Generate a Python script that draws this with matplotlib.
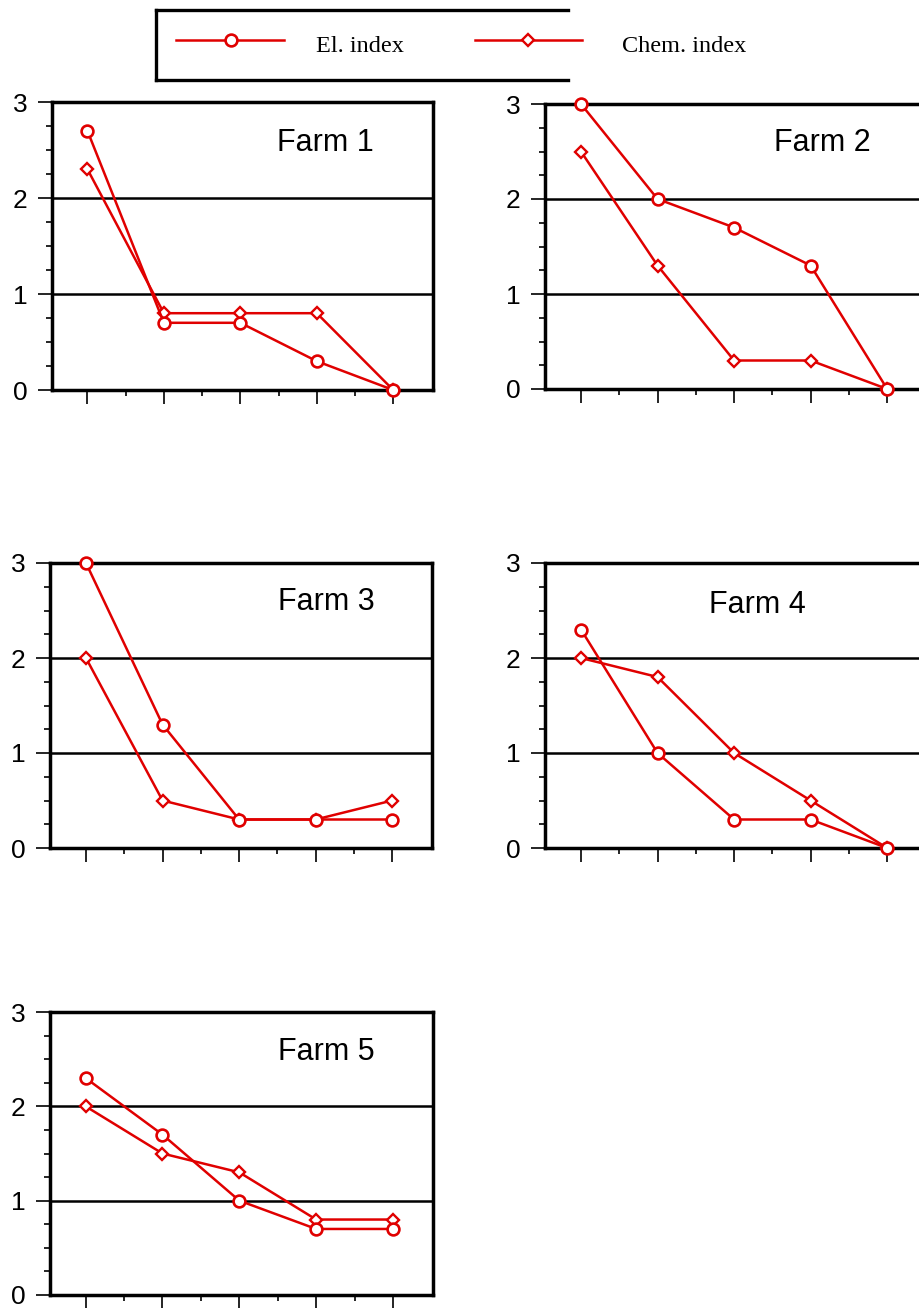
import matplotlib
matplotlib.use("Agg")
import matplotlib.pyplot as plt
from matplotlib.lines import Line2D
from matplotlib.ticker import FixedLocator, NullFormatter

plt.rcParams['font.family'] = ['Liberation Sans', 'DejaVu Sans']

# ---- data ----
x_points = [1, 2, 3, 4, 5]
farm_names = ["Farm 1", "Farm 2", "Farm 3", "Farm 4", "Farm 5"]
el_farm1 = [2.7, 0.7, 0.7, 0.3, 0.0]
chem_farm1 = [2.3, 0.8, 0.8, 0.8, 0.0]
el_farm2 = [3.0, 2.0, 1.7, 1.3, 0.0]
chem_farm2 = [2.5, 1.3, 0.3, 0.3, 0.0]
el_farm3 = [3.0, 1.3, 0.3, 0.3, 0.3]
chem_farm3 = [2.0, 0.5, 0.3, 0.3, 0.5]
el_farm4 = [2.3, 1.0, 0.3, 0.3, 0.0]
chem_farm4 = [2.0, 1.8, 1.0, 0.5, 0.0]
el_farm5 = [2.3, 1.7, 1.0, 0.7, 0.7]
chem_farm5 = [2.0, 1.5, 1.3, 0.8, 0.8]
y_ticks = [0, 1, 2, 3]
legend_labels = ["El. index", "Chem. index"]

el_series = [el_farm1, el_farm2, el_farm3, el_farm4, el_farm5]
chem_series = [chem_farm1, chem_farm2, chem_farm3, chem_farm4, chem_farm5]

W, H = 919, 1308
fig = plt.figure(figsize=(W / 100, H / 100), dpi=100)

RED = '#e00000'
LW = 1.8

# panel boxes in pixels: left, top, right, bottom
boxes = [
    (51.5, 102, 433, 390),
    (545, 104, 927, 389),
    (50, 563, 432, 848),
    (545, 563, 927, 848),
    (49.5, 1012, 433, 1295),
]
label_pos = [(0.717, 0.857), (0.726, 0.863), (0.723, 0.863), (0.557, 0.853), (0.723, 0.859)]

for i, (l, t, r, b) in enumerate(boxes):
    ax = fig.add_axes([l / W, 1 - b / H, (r - l) / W, (b - t) / H])
    ax.set_xlim(0.53, 5.52)
    ax.set_ylim(0, 3)
    for s in ax.spines.values():
        s.set_linewidth(2.5)
        s.set_color('black')
    ax.set_axisbelow(True)
    ax.yaxis.grid(True, color='black', lw=1.8)
    ax.set_yticks(y_ticks)
    ax.set_yticklabels([str(v) for v in y_ticks])
    ax.yaxis.set_minor_locator(FixedLocator([v + 0.25 * k for v in y_ticks[:-1] for k in (1, 2, 3)]))
    ax.xaxis.set_major_locator(FixedLocator(x_points))
    ax.xaxis.set_minor_locator(FixedLocator([v + 0.5 for v in x_points[:-1]]))
    ax.xaxis.set_major_formatter(NullFormatter())
    ax.tick_params(which='major', direction='out', length=10, width=1.2, color='black',
                   labelsize=19, pad=7.5)
    ax.tick_params(which='minor', direction='out', length=4.5, width=1.2, color='black')
    ax.plot(x_points, chem_series[i], color=RED, lw=LW, marker='D', ms=6,
            mfc='white', mec=RED, mew=1.7, clip_on=False, zorder=3)
    ax.plot(x_points, el_series[i], color=RED, lw=LW, marker='o', ms=8.5,
            mfc='white', mec=RED, mew=1.9, clip_on=False, zorder=4)
    ax.text(label_pos[i][0], label_pos[i][1], farm_names[i], transform=ax.transAxes,
            ha='center', va='center', fontsize=22)

# ---- legend (drawn in a pixel-coordinate overlay) ----
lax = fig.add_axes([0, 0, 1, 1], facecolor='none')
lax.set_xlim(0, W)
lax.set_ylim(H, 0)
lax.axis('off')
box_kw = dict(color='black', lw=2.4, solid_capstyle='projecting')
lax.add_line(Line2D([156, 156], [10, 80], **box_kw))
lax.add_line(Line2D([156, 568], [10, 10], **box_kw))
lax.add_line(Line2D([156, 568], [80, 80], **box_kw))
lax.add_line(Line2D([176, 284], [40, 40], color=RED, lw=LW))
lax.add_line(Line2D([231], [40], color=RED, marker='o', ms=8.5, mfc='white', mec=RED, mew=1.9))
lax.add_line(Line2D([475, 582], [40, 40], color=RED, lw=LW))
lax.add_line(Line2D([528], [40], color=RED, marker='D', ms=6, mfc='white', mec=RED, mew=1.7))
lax.text(316, 51.5, legend_labels[0], family=['Liberation Serif', 'DejaVu Serif'],
         fontsize=17.5, va='baseline', ha='left')
lax.text(622, 51.5, legend_labels[1], family=['Liberation Serif', 'DejaVu Serif'],
         fontsize=17.5, va='baseline', ha='left')

fig.savefig('out.png', dpi=100)
